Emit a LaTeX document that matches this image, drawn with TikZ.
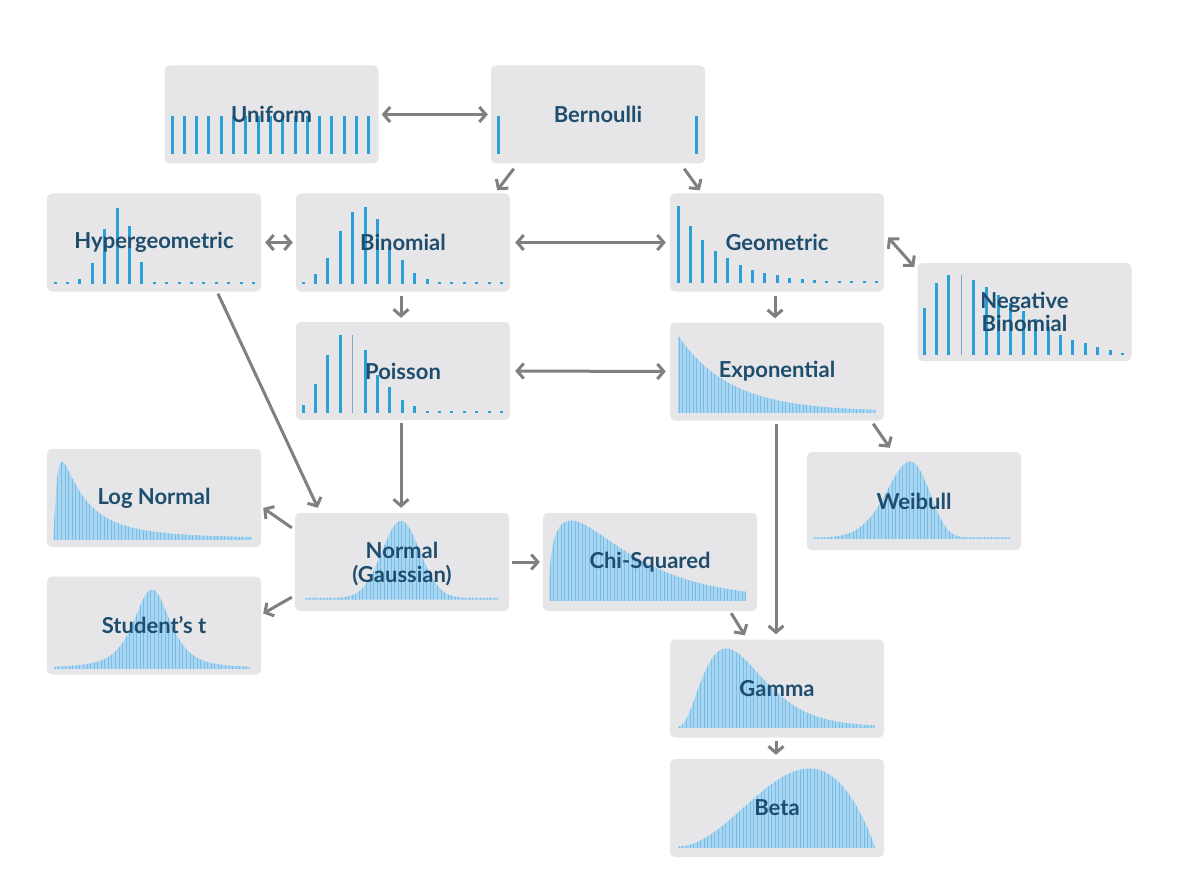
\documentclass[tikz,border=0pt]{standalone}
\usepackage{fontspec}
\setmainfont{Lato}
\usetikzlibrary{arrows.meta,calc}
\definecolor{boxgray}{HTML}{E6E6E8}
\definecolor{txtblue}{HTML}{1E4D6E}
\definecolor{barblue}{HTML}{2A9FD8}
\definecolor{thincol}{HTML}{7FA9C2}
\definecolor{cfill}{HTML}{A9D6F0}
\definecolor{cline}{HTML}{79BDE6}
\definecolor{arrgray}{HTML}{808080}
\tikzset{
  dbox/.style={fill=boxgray, rounded corners=5pt, minimum width=214pt, minimum height=98pt, inner sep=0pt, draw=none},
  lbl/.style={text=txtblue, font=\bfseries\fontsize{22}{23.5}\selectfont, align=center, inner sep=0pt},
  bar/.style={draw=barblue, line width=3pt},
  thinbar/.style={draw=thincol, line width=1pt},
  tip/.tip={Straight Barb[length=6.5pt,width=15pt]},
  arr/.style={draw=arrgray, line width=3pt, -tip},
  darr/.style={draw=arrgray, line width=3pt, tip-tip},
}
\newcommand{\dbars}[4]{%
  \foreach \hh [count=\ii from 0] in {#4} {\draw[bar] (#1+\ii*#2,#3) -- ++(0,-\hh);}}
\newcommand{\cplot}[4]{%
  \begin{scope}
    \clip (#1,#3) -- plot[domain=#1:#2,samples=120] (\x,{#3-(#4)}) -- (#2,#3) -- cycle;
    \fill[cfill] (#1,#3) rectangle (#2,#3-100);
    \foreach \kk in {0,...,56} {\draw[cline, line width=0.8pt] (#1+1+\kk*3.55,#3) -- ++(0,-100);}
  \end{scope}}
\begin{document}
\begin{tikzpicture}[x=1pt,y=-1pt]
\fill[white] (0,0) rectangle (1199,896);
\useasboundingbox (0,0) rectangle (1199,896);
% boxes
\node[dbox] (unif) at (271.5,114.5) {};
\node[dbox] (bern) at (598,114.5) {};
\node[dbox] (hyper) at (154,242.5) {};
\node[dbox] (binom) at (403,242.5) {};
\node[dbox] (geom) at (777,242.5) {};
\node[dbox] (negbin) at (1024.5,312) {};
\node[dbox] (poiss) at (403,371) {};
\node[dbox] (expo) at (777,371.5) {};
\node[dbox] (lognorm) at (154,498) {};
\node[dbox] (weib) at (914,501) {};
\node[dbox] (norm) at (402,562) {};
\node[dbox] (chi) at (650,562) {};
\node[dbox] (stud) at (154,625.5) {};
\node[dbox] (gam) at (777,688.5) {};
\node[dbox] (beta) at (777,808) {};
% discrete plots
\dbars{172}{12.3}{154}{38,38,38,38,38,38,38,38,38,38,38,38,38,38,38,38,38}
\dbars{498}{198}{154}{38,38}
\dbars{55}{12.4}{284}{2.5,2.5,5,21,55,76,58,22,2.5,2.5,2.5,2.5,2.5,2.5,2.5,2.5,2.5}
\dbars{303}{12.4}{284}{2.5,10,26,53,72,77,65,39,24,11,5,2.5,2.5,2.5,2.5,2.5,2.5}
\dbars{678}{12.4}{283}{77,57,43,32,25,18,13,10.5,8,5.5,4,3,2.5,2.5,2.5,2.5,2.5}
\dbars{924}{12.4}{355}{47,72,80,0,75,68,60,52,44,36,28,20,15,12,8,5,2.5}
\draw[thinbar] (961.2,355) -- ++(0,-80);
\dbars{303}{12.4}{413}{8,29,58,78,0,63,38,26,13,7,2.5,2.5,2.5,2.5,2.5,2.5,2.5}
\draw[thinbar] (352.6,413) -- ++(0,-78);
% continuous plots
\cplot{678}{876}{413}{76*exp(-(\x-678)/52)+1.5}
\cplot{53.3}{252}{540}{77*(9/(\x-53))*exp(-((ln(\x-53)-3.407)^2-1.464)/2.42)+1.5}
\cplot{305}{498}{599.5}{77*exp(max(-9,-((\x-401)^2)/722))+1.5}
\cplot{54}{250}{669}{78/((1+((\x-152)/19.3)^2/3)^2)+1.5}
\cplot{549.3}{746}{601}{79*((\x-549)/22)^0.4*exp(-(\x-571)/55)+1.5}
\cplot{678.3}{875}{728}{78*((\x-678)/48.3)^2.5*exp(-2.5*((\x-678)/48.3-1))+1.5}
\cplot{678.3}{875}{848}{78*6.75*((\x-678)/197)^2*(1-(\x-678)/197)+1.5}
\cplot{813}{1010}{539}{76*((0.970+(\x-910)/120)/0.970)^5*exp(max(-9,-((0.970+(\x-910)/120)^6-0.833)))+1.5}
% labels
\node[lbl] (unif-t) at (unif) {Uniform};
\node[lbl] (bern-t) at (bern) {Bernoulli};
\node[lbl] (hyper-t) at (hyper) {Hypergeometric};
\node[lbl] (binom-t) at (binom) {Binomial};
\node[lbl] (geom-t) at (geom) {Geometric};
\node[lbl] (negbin-t) at (negbin) {Negative\\Binomial};
\node[lbl] (poiss-t) at (poiss) {Poisson};
\node[lbl] (expo-t) at (expo) {Exponential};
\node[lbl] (lognorm-t) at (lognorm) {Log Normal};
\node[lbl] (weib-t) at (weib) {Weibull};
\node[lbl] (norm-t) at ([yshift=-2pt]norm.center) {Normal\\(Gaussian)};
\node[lbl] (chi-t) at (chi) {Chi-Squared};
\node[lbl] (stud-t) at (stud) {Student’s t};
\node[lbl] (gam-t) at (gam) {Gamma};
\node[lbl] (beta-t) at (beta) {Beta};
% connectors
\draw[darr] ($(unif.east)+(3,0)$) -- ($(bern.west)+(-3,0)$);
\draw[arr] ($(bern.south west)+(23,5)$) -- ($(binom.north east)+(-13,-3)$);
\draw[arr] ($(bern.south east)+(-21,5)$) -- ($(geom.north west)+(30,-3)$);
\draw[darr] ($(hyper.east)+(4,0)$) -- ($(binom.west)+(-3,0)$);
\draw[darr] ($(binom.east)+(5,0)$) -- ($(geom.west)+(-4,0)$);
\draw[darr] ($(geom.east)+(4,-5)$) -- ($(negbin.north west)+(-3,4)$);
\draw[arr] ($(binom.south)+(-2,4)$) -- ($(poiss.north)+(-2,-4)$);
\draw[arr] ($(geom.south)+(-2,4)$) -- ($(expo.north)+(-2,-4)$);
\draw[darr] ($(poiss.east)+(5,0)$) -- ($(expo.west)+(-4,0)$);
\draw[arr] ($(hyper.south)+(64,2)$) -- ($(norm.north west)+(23,-5)$);
\draw[arr] ($(poiss.south)+(-2,3)$) -- ($(norm.north)+(-1,-5)$);
\draw[arr] ($(expo.south east)+(-11,3)$) -- ($(weib.north west)+(83,-4)$);
\draw[arr] ($(expo.south)+(-1,3)$) -- ($(gam.north)+(-1,-5)$);
\draw[arr] ($(norm.north west)+(-3,15)$) -- ($(lognorm.east)+(2,10)$);
\draw[arr] ($(norm.south west)+(-3,-14)$) -- ($(stud.east)+(2,-12)$);
\draw[arr] ($(norm.east)+(3,0)$) -- ($(chi.west)+(-3,0)$);
\draw[arr] ($(chi.south east)+(-26,2)$) -- ($(gam.north west)+(75,-4)$);
\draw[arr] ($(gam.south)+(-1,3)$) -- ($(beta.north)+(-1,-4)$);
\end{tikzpicture}
\end{document}
